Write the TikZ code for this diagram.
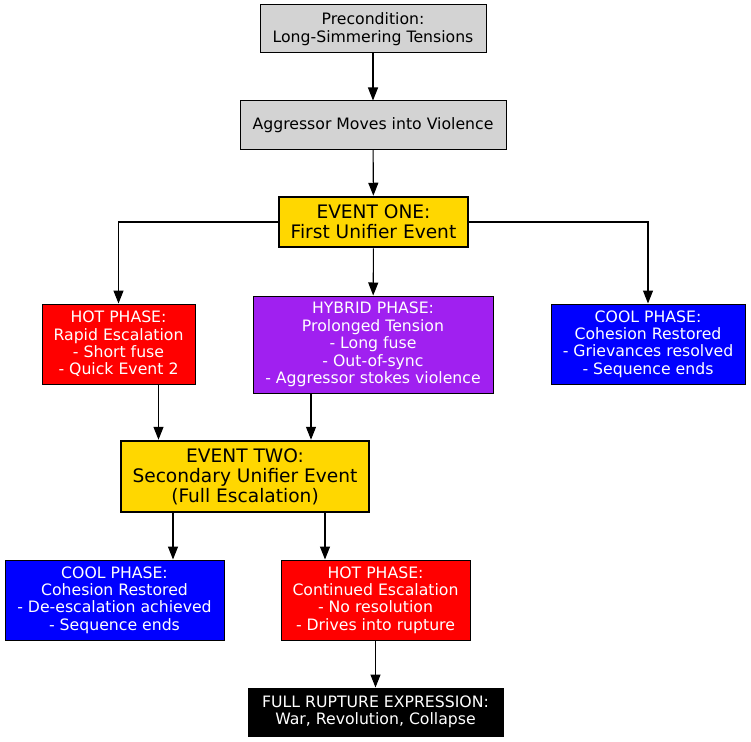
\documentclass[tikz,border=0pt]{standalone}
\usepackage{fontspec}
\setmainfont{DejaVu Sans}
\usepackage{xcolor}
\usetikzlibrary{arrows.meta, positioning}

\definecolor{boxgrey}{RGB}{211,211,211}
\definecolor{eventgold}{RGB}{255,215,0}
\definecolor{hybridpurple}{RGB}{160,32,240}

\begin{document}
\begin{tikzpicture}[
    x=1pt, y=-1pt,
    phase/.style={draw, rectangle, align=center, inner sep=0pt, line width=1pt, font=\fontsize{15.7}{17.4}\selectfont},
    event/.style={phase, fill=eventgold, line width=2.5pt, font=\fontsize{18.6}{20}\selectfont},
    arr/.style={-{Triangle[length=13pt, width=10pt]}, line width=1.1pt},
]
    \useasboundingbox (0,0) rectangle (751,741);

    \node[phase, fill=boxgrey, minimum width=226pt, minimum height=48pt] (pre) at (373,29) {Precondition:\\Long-Simmering Tensions};
    \node[phase, fill=boxgrey, minimum width=266pt, minimum height=48pt] (aggr) at (373,125) {Aggressor Moves into Violence};
    \node[event, minimum width=189pt, minimum height=50pt] (evA) at (373.5,222) {EVENT ONE:\\First Unifier Event};

    \node[phase, fill=red, text=white, minimum width=153pt, minimum height=80pt] (hotA) at (118.5,344) {HOT PHASE:\\Rapid Escalation\\- Short fuse\\- Quick Event 2};
    \node[phase, fill=hybridpurple, text=white, minimum width=240pt, minimum height=97pt] (hybrid) at (373,344.5) {HYBRID PHASE:\\Prolonged Tension\\- Long fuse\\- Out-of-sync\\- Aggressor stokes violence};
    \node[phase, fill=blue, text=white, minimum width=194pt, minimum height=80pt] (coolA) at (648,344) {COOL PHASE:\\Cohesion Restored\\- Grievances resolved\\- Sequence ends};

    \node[event, minimum width=248pt, minimum height=71pt] (evB) at (245,476.5) {EVENT TWO:\\Secondary Unifier Event\\(Full Escalation)};

    \node[phase, fill=blue, text=white, minimum width=219pt, minimum height=80pt] (coolB) at (114.5,600) {COOL PHASE:\\Cohesion Restored\\- De-escalation achieved\\- Sequence ends};
    \node[phase, fill=red, text=white, minimum width=189pt, minimum height=80pt] (hotB) at (375.5,600) {HOT PHASE:\\Continued Escalation\\- No resolution\\- Drives into rupture};
    \node[phase, fill=black, text=white, minimum width=255pt, minimum height=48pt] (rupture) at (375.5,712) {FULL RUPTURE EXPRESSION:\\War, Revolution, Collapse};

    % edges
    \draw[arr] (pre) -- (aggr);
    \draw[arr] (aggr) -- (evA);
    \draw[arr] (evA.west) -| (hotA.north);
    \draw[arr] (evA) -- (hybrid);
    \draw[arr] (evA.east) -| (coolA.north);
    \draw[arr] ([xshift=40pt]hotA.south) -- ([xshift=40pt]hotA.south |- evB.north);
    \draw[arr] ([xshift=-62pt]hybrid.south) -- ([xshift=-62pt]hybrid.south |- evB.north);
    \draw[arr] ([xshift=-72pt]evB.south) -- ([xshift=-72pt]evB.south |- coolB.north);
    \draw[arr] ([xshift=80pt]evB.south) -- ([xshift=80pt]evB.south |- hotB.north);
    \draw[arr] (hotB) -- (rupture);
\end{tikzpicture}
\end{document}
